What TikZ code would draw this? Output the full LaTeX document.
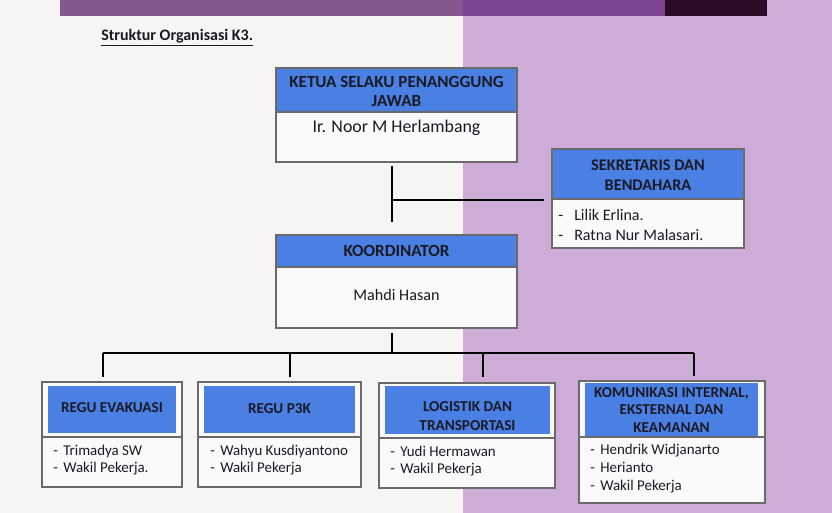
\documentclass[tikz,border=0pt]{standalone}
\usepackage{fontspec}
\setmainfont{Carlito}
\usetikzlibrary{fit}
\definecolor{bgwhite}{HTML}{F6F5F3}
\definecolor{lav}{HTML}{CDADD7}
\definecolor{barA}{HTML}{84588F}
\definecolor{barB}{HTML}{7D4591}
\definecolor{barC}{HTML}{2A0C26}
\definecolor{hdr}{HTML}{4A80E3}
\definecolor{boxline}{HTML}{6A6A6A}
\definecolor{boxfill}{HTML}{FAFAFA}
\definecolor{txt}{HTML}{1A1A24}
\tikzset{
  outerbox/.style={draw=boxline, line width=1.1pt, fill=boxfill, inner sep=0pt},
  hdrbox/.style={draw=boxline, line width=1.1pt, fill=hdr, inner sep=0pt},
  hdrin/.style={fill=hdr, inner sep=0pt},
  sepline/.style={draw=boxline, line width=1.1pt},
  bighdr/.style={font=\bfseries\fontsize{12.8}{14.3}\selectfont, text=txt, align=center, inner sep=0pt},
  smallhdr/.style={font=\bfseries\fontsize{11.4}{13.3}\selectfont, text=txt, align=center, inner sep=0pt},
  listsek/.style={font=\fontsize{12}{15}\selectfont, text=txt, align=left, anchor=west, inner sep=0pt},
  listsmall/.style={font=\fontsize{11.2}{13}\selectfont, text=txt, align=left, anchor=west, inner sep=0pt},
  conn/.style={draw=black, line width=1.8pt},
}
\newcommand{\itm}[1]{\makebox[7.5pt][l]{-}#1}
\newcommand{\itmw}[1]{\makebox[12pt][l]{-}#1}
\begin{document}
\begin{tikzpicture}[x=0.75pt,y=-0.75pt]
\useasboundingbox (0,0) rectangle (832,513);
% background
\fill[bgwhite] (0,0) rectangle (463,513);
\fill[lav] (463,0) rectangle (832,513);
\fill[barA] (60,0) rectangle (463,16);
\fill[barB] (463,0) rectangle (665,16);
\fill[barC] (665,0) rectangle (767,16);
% title
\node[anchor=west, font=\bfseries\fontsize{12}{14}\selectfont, text=txt, inner sep=0pt] (title) at (101,38) {\underline{Struktur Organisasi K3.}};
% Ketua
\node[outerbox, fit={(276,68)(517,162)}] (ketua) {};
\node[hdrbox, fit={(276,68)(517,112)}] (ketuah) {};
\node[bighdr] (ketuat) at (396.5,91) {KETUA SELAKU PENANGGUNG\\JAWAB};
\node[font=\fontsize{13.4}{15}\selectfont, text=txt, inner sep=0pt] (ketuan) at (396.5,128) {Ir. Noor M Herlambang};
% Sekretaris
\node[outerbox, fit={(552,149)(744,248)}] (sek) {};
\node[hdrbox, fit={(552,149)(744,199)}] (sekh) {};
\node[bighdr, font=\bfseries\fontsize{12.2}{15}\selectfont] (sekt) at (648,175) {SEKRETARIS DAN\\BENDAHARA};
\node[listsek] (sekl) at (558,225) {\itmw{Lilik Erlina.}\\\itmw{Ratna Nur Malasari.}};
% Koordinator
\node[outerbox, fit={(276,235)(517,328)}] (koord) {};
\node[hdrbox, fit={(276,235)(517,267)}] (koordh) {};
\node[bighdr] (koordt) at (396.5,251) {KOORDINATOR};
\node[font=\fontsize{12.1}{14}\selectfont, text=txt, inner sep=0pt] (koordn) at (396.5,295) {Mahdi Hasan};
% Regu Evakuasi
\node[outerbox, fit={(42,382)(182,487)}] (evak) {};
\node[hdrin, fit={(48,386)(176,433)}] (evakh) {};
\draw[sepline] (42,437) -- (182,437);
\node[smallhdr] (evakt) at (112,408) {REGU EVAKUASI};
\node[listsmall] (evakl) at (53,460) {\itm{Trimadya SW}\\\itm{Wakil Pekerja.}};
% Regu P3K
\node[outerbox, fit={(198,382)(361,487)}] (p3k) {};
\node[hdrin, fit={(204,386)(355,433)}] (p3kh) {};
\draw[sepline] (198,437) -- (361,437);
\node[smallhdr] (p3kt) at (279.5,409) {REGU P3K};
\node[listsmall] (p3kl) at (210,460) {\itm{Wahyu Kusdiyantono}\\\itm{Wakil Pekerja}};
% Logistik
\node[outerbox, fit={(379,383)(555,488)}] (logi) {};
\node[hdrin, fit={(385,386)(550,434)}] (logih) {};
\draw[sepline] (379,438) -- (555,438);
\node[smallhdr, font=\bfseries\fontsize{11.4}{14.25}\selectfont] (logit) at (467.5,416) {LOGISTIK DAN\\TRANSPORTASI};
\node[listsmall] (logil) at (390,461) {\itm{Yudi Hermawan}\\\itm{Wakil Pekerja}};
% Komunikasi
\node[outerbox, fit={(579,381)(765,503)}] (kom) {};
\node[hdrin, fit={(585,383)(758,436)}] (komh) {};
\draw[sepline] (579,437) -- (765,437);
\node[smallhdr] (komt) at (671.5,410) {KOMUNIKASI INTERNAL,\\EKSTERNAL DAN\\KEAMANAN};
\node[listsmall, font=\fontsize{11.2}{13.5}\selectfont] (koml) at (590,469) {\itm{Hendrik Widjanarto}\\\itm{Herianto}\\\itm{Wakil Pekerja}};
% connectors
\coordinate (sp) at (392,0);
\coordinate (jn) at (392,200);
\coordinate (bus) at (392,353);
\coordinate (busL) at (103,353);
\coordinate (busP) at (290,353);
\coordinate (busG) at (483,353);
\coordinate (busR) at (694,353);
\draw[conn, shorten <=2.25pt, shorten >=9pt] (ketua.south -| sp) -- (koord.north -| sp);
\draw[conn, shorten >=5.25pt] (jn) -- (sek.west |- jn);
\draw[conn, shorten <=3pt] (koord.south -| sp) -- (bus);
\draw[conn] (busL) -- (busR);
\draw[conn, shorten >=3.5pt] (busL) -- (evak.north -| busL);
\draw[conn, shorten >=3.5pt] (busP) -- (p3k.north -| busP);
\draw[conn, shorten >=4pt] (busG) -- (logi.north -| busG);
\draw[conn, shorten >=3pt] (busR) -- (kom.north -| busR);
\end{tikzpicture}
\end{document}
